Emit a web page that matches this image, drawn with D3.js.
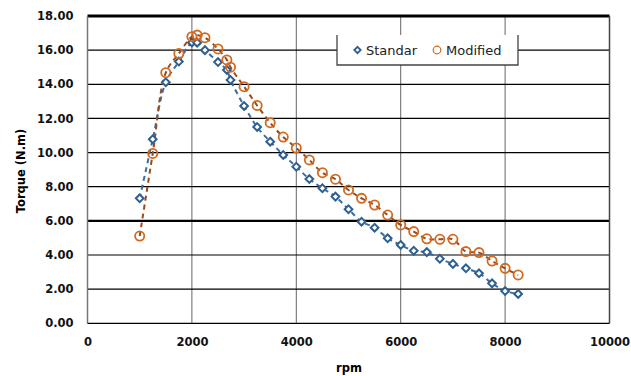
<!DOCTYPE html>
<html>
<head>
<meta charset="utf-8">
<script src="https://cdn.jsdelivr.net/npm/d3@7"></script>
<style>
  body { margin: 0; background: #fff; }
  text { font-family: "DejaVu Sans", sans-serif; }
</style>
</head>
<body>
<svg width="631" height="376"></svg>
<script>
// rpm points (same for both series)
var rpm = [1000, 1250, 1500, 1750, 2000, 2100, 2250, 2500, 2670, 2740, 3000, 3250, 3500, 3750, 4000, 4250,
    4500, 4750, 5000, 5250, 5500, 5750, 6000, 6250, 6500, 6750, 7000, 7250, 7500, 7750, 8000, 8250];
var standar = [7.32, 10.78, 14.12, 15.33, 16.45, 16.44, 16.0, 15.3, 14.84, 14.25, 12.73, 11.5, 10.64, 9.86, 9.17, 8.45,
    7.91, 7.42, 6.68, 5.95, 5.6, 4.98, 4.59, 4.25, 4.17, 3.78, 3.48, 3.22, 2.93, 2.34, 1.89, 1.72];
var modified = [5.11, 9.95, 14.68, 15.8, 16.79, 16.88, 16.73, 16.07, 15.43, 15.0, 13.86, 12.76, 11.75, 10.91, 10.27, 9.57,
    8.82, 8.44, 7.81, 7.32, 6.93, 6.34, 5.76, 5.37, 4.95, 4.92, 4.92, 4.2, 4.14, 3.65, 3.22, 2.83];
var xTicks = [0, 2000, 4000, 6000, 8000, 10000];
var yTicks = [0, 2, 4, 6, 8, 10, 12, 14, 16, 18];
var seriesNames = ["Standar", "Modified"];

var svg = d3.select("svg");
var pLeft = 87.5, pRight = 609.5, pTop = 16, pBottom = 323.3;

var x = d3.scaleLinear().domain([0, 10000]).range([pLeft, pRight]);
var y = d3.scaleLinear().domain([0, 18]).range([pBottom, pTop]);

var blue = "#2f5f8f", orange = "#d2691e";

// vertical grid
svg.append("g").selectAll("line")
    .data(xTicks.slice(1, -1))
    .enter().append("line")
    .attr("x1", function (d) { return x(d); })
    .attr("x2", function (d) { return x(d); })
    .attr("y1", pTop).attr("y2", pBottom)
    .attr("stroke", "#666").attr("stroke-width", 1);

// horizontal grid
svg.append("g").selectAll("line")
    .data(yTicks.slice(1))
    .enter().append("line")
    .attr("x1", pLeft).attr("x2", pRight)
    .attr("y1", function (d) { return y(d); })
    .attr("y2", function (d) { return y(d); })
    .attr("stroke", "#000")
    .attr("stroke-width", function (d) { return d == 18 ? 3 : (d == 6 ? 2.2 : 1.2); });

// frame
svg.append("line").attr("x1", pLeft).attr("x2", pLeft).attr("y1", pTop).attr("y2", pBottom)
    .attr("stroke", "#777").attr("stroke-width", 1.5);
svg.append("line").attr("x1", pRight).attr("x2", pRight).attr("y1", pTop).attr("y2", pBottom)
    .attr("stroke", "#444").attr("stroke-width", 1.5);
svg.append("line").attr("x1", pLeft).attr("x2", pRight).attr("y1", pBottom).attr("y2", pBottom)
    .attr("stroke", "#000").attr("stroke-width", 1.2);

// axes labels
var yAxis = d3.axisLeft(y).tickValues(yTicks).tickSize(0).tickPadding(14)
    .tickFormat(function (d) { return d3.format(".2f")(d); });
var gy = svg.append("g").attr("transform", "translate(" + pLeft + ",0)").call(yAxis);
gy.select(".domain").remove();
gy.selectAll("text").attr("font-size", "11.5px").attr("font-weight", "bold").attr("fill", "#111");

var xAxis = d3.axisBottom(x).tickValues(xTicks).tickSize(0).tickPadding(15).tickFormat(d3.format("d"));
var gx = svg.append("g").attr("transform", "translate(0," + pBottom + ")").call(xAxis);
gx.select(".domain").remove();
gx.selectAll("text").attr("font-size", "11.5px").attr("font-weight", "bold").attr("fill", "#111");

svg.append("text").attr("x", 349).attr("y", 372).attr("text-anchor", "middle")
    .attr("font-size", "11.5px").attr("font-weight", "bold").text("rpm");
svg.append("text").attr("transform", "translate(25,171) rotate(-90)").attr("text-anchor", "middle")
    .attr("font-size", "11.5px").attr("font-weight", "bold").text("Torque (N.m)");

// dashed trend lines
var line = d3.line().curve(d3.curveCatmullRom.alpha(0.5))
    .x(function (d) { return x(d[0]); })
    .y(function (d) { return y(d[1]); });

var stdPts = rpm.map(function (r, i) { return [r, standar[i]]; });
var modPts = rpm.map(function (r, i) { return [r, modified[i]]; });

svg.append("path").datum(stdPts).attr("d", line).attr("fill", "none")
    .attr("stroke", "#3a6ea5").attr("stroke-width", 2).attr("stroke-dasharray", "5,4");
svg.append("path").datum(modPts).attr("d", line).attr("fill", "none")
    .attr("stroke", "#9c4a1a").attr("stroke-width", 2).attr("stroke-dasharray", "5,4");

// markers
svg.append("g").selectAll("path")
    .data(stdPts)
    .enter().append("path")
    .attr("d", d3.symbol().type(d3.symbolDiamond2).size(38))
    .attr("transform", function (d) { return "translate(" + x(d[0]) + "," + y(d[1]) + ")"; })
    .attr("fill", "#fff").attr("stroke", blue).attr("stroke-width", 2);

svg.append("g").selectAll("circle")
    .data(modPts)
    .enter().append("circle")
    .attr("cx", function (d) { return x(d[0]); })
    .attr("cy", function (d) { return y(d[1]); })
    .attr("r", 4.6)
    .attr("fill", "none").attr("stroke", orange).attr("stroke-width", 1.8);

// legend
var lg = svg.append("g");
lg.append("rect").attr("x", 337).attr("y", 35).attr("width", 181).attr("height", 30)
    .attr("fill", "#fff").attr("stroke", "none");
lg.append("path").attr("d", "M337,35V65H518V35").attr("fill", "none")
    .attr("stroke", "#444").attr("stroke-width", 1.3);
lg.append("path").attr("d", d3.symbol().type(d3.symbolDiamond2).size(26))
    .attr("transform", "translate(357.5,50)")
    .attr("fill", "#fff").attr("stroke", blue).attr("stroke-width", 1.8);
lg.append("circle").attr("cx", 437).attr("cy", 50).attr("r", 3.8)
    .attr("fill", "none").attr("stroke", orange).attr("stroke-width", 1.2);
lg.append("text").attr("x", 366).attr("y", 55).attr("font-size", "13px").attr("fill", "#222")
    .text(seriesNames[0]);
lg.append("text").attr("x", 446).attr("y", 55).attr("font-size", "13px").attr("fill", "#222")
    .text(seriesNames[1]);
</script>
</body>
</html>
